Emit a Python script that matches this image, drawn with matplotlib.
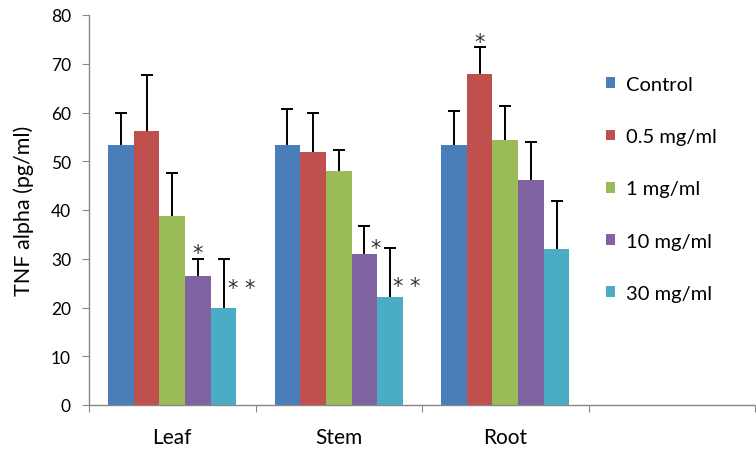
#!/usr/bin/env python3
"""TNF alpha levels by plant part and extract concentration (grouped bars)."""
import numpy as np
import matplotlib
matplotlib.use("Agg")
import matplotlib.pyplot as plt

plt.rcParams['font.family'] = ['Lato', 'DejaVu Sans']

# data
parts = ['Leaf', 'Stem', 'Root']
doses = ['Control', '0.5 mg/ml', '1 mg/ml', '10 mg/ml', '30 mg/ml']
means = [
    [53.4, 53.4, 53.4],   # Control
    [56.3, 52.0, 68.0],   # 0.5 mg/ml
    [38.7, 47.9, 54.3],   # 1 mg/ml
    [26.5, 31.0, 46.2],   # 10 mg/ml
    [19.9, 22.2, 32.0],   # 30 mg/ml
]
errs = [
    [6.4, 7.4, 7.0],
    [11.3, 7.8, 5.4],
    [8.8, 4.4, 7.1],
    [3.4, 5.7, 7.7],
    [10.0, 10.0, 9.9],
]
# significance marks: (dose index, part index, text)
marks = [
    (3, 0, '*'),
    (4, 0, '* *'),
    (3, 1, '*'),
    (4, 1, '* *'),
    (1, 2, '*'),
]
# where each mark sits relative to its error-bar top (pixels, alignment)
mark_offsets = [
    ((0, 13), 'center'),
    ((4, -22), 'left'),
    ((6, -15), 'left'),
    ((3, -31), 'left'),
    ((0, 12), 'center'),
]
colors = ['#4a7ebb', '#c0504d', '#9bbb59', '#8064a2', '#4bacc6']

fig = plt.figure(figsize=(7.56, 4.56), dpi=100)
ax = fig.add_axes([89 / 756, 50 / 456, 666 / 756, 390 / 456])

n_cat = 4  # one empty slot, the legend sits in it
width = 0.154
x = np.arange(len(parts)) + 0.5
for i, (name, m, e, c) in enumerate(zip(doses, means, errs, colors)):
    pos = x + (i - 2) * width
    ax.bar(pos, m, width=width, color=c, label=name, zorder=2)
    _, caps, _ = ax.errorbar(pos, m, yerr=[np.zeros(len(m)), e], fmt='none',
                             ecolor='black', elinewidth=1.4, capsize=4.5,
                             capthick=1.4, zorder=3)
    caps[0].set_visible(False)  # upper error only

star_rise = 12.5  # px from baseline to middle of the asterisk glyph
for (di, pi, txt), ((dx, dy), ha) in zip(marks, mark_offsets):
    px = x[pi] + (di - 2) * width
    top = means[di][pi] + errs[di][pi]
    ax.annotate(txt, (px, top), xytext=(dx, dy - star_rise),
                textcoords='offset pixels', ha=ha, va='baseline',
                fontsize=15, color='#333333', family='DejaVu Sans')

ax.set_xlim(0, n_cat)
ax.set_ylim(0, 80)
ax.set_yticks(range(0, 81, 10))
ax.set_xticks(np.arange(n_cat + 1))
ax.set_xticklabels([''] * (n_cat + 1))
ax.set_xticks(x, minor=True)
ax.set_xticklabels(parts, minor=True)
ax.tick_params(axis='x', which='minor', length=0, pad=16, labelsize=15)
ax.tick_params(axis='x', which='major', length=5, color='#888888', direction='out')
ax.tick_params(axis='y', length=5, color='#888888', labelsize=12.5, pad=8)
ax.set_ylabel('TNF alpha (pg/ml)', fontsize=15.5)
ax.yaxis.set_label_coords(-0.083, 0.5)

for s in ['top', 'right']:
    ax.spines[s].set_visible(False)
for s in ['left', 'bottom']:
    ax.spines[s].set_color('#888888')
    ax.spines[s].set_linewidth(1.0)

ax.legend(loc='upper left', bbox_to_anchor=(606 / 756, (456 - 77) / 456),
          bbox_transform=fig.transFigure, frameon=False, borderpad=0,
          borderaxespad=0, fontsize=14.5, handlelength=0.45, handleheight=0.45,
          handletextpad=0.55, labelspacing=1.75)

fig.savefig('out.png', dpi=100)
